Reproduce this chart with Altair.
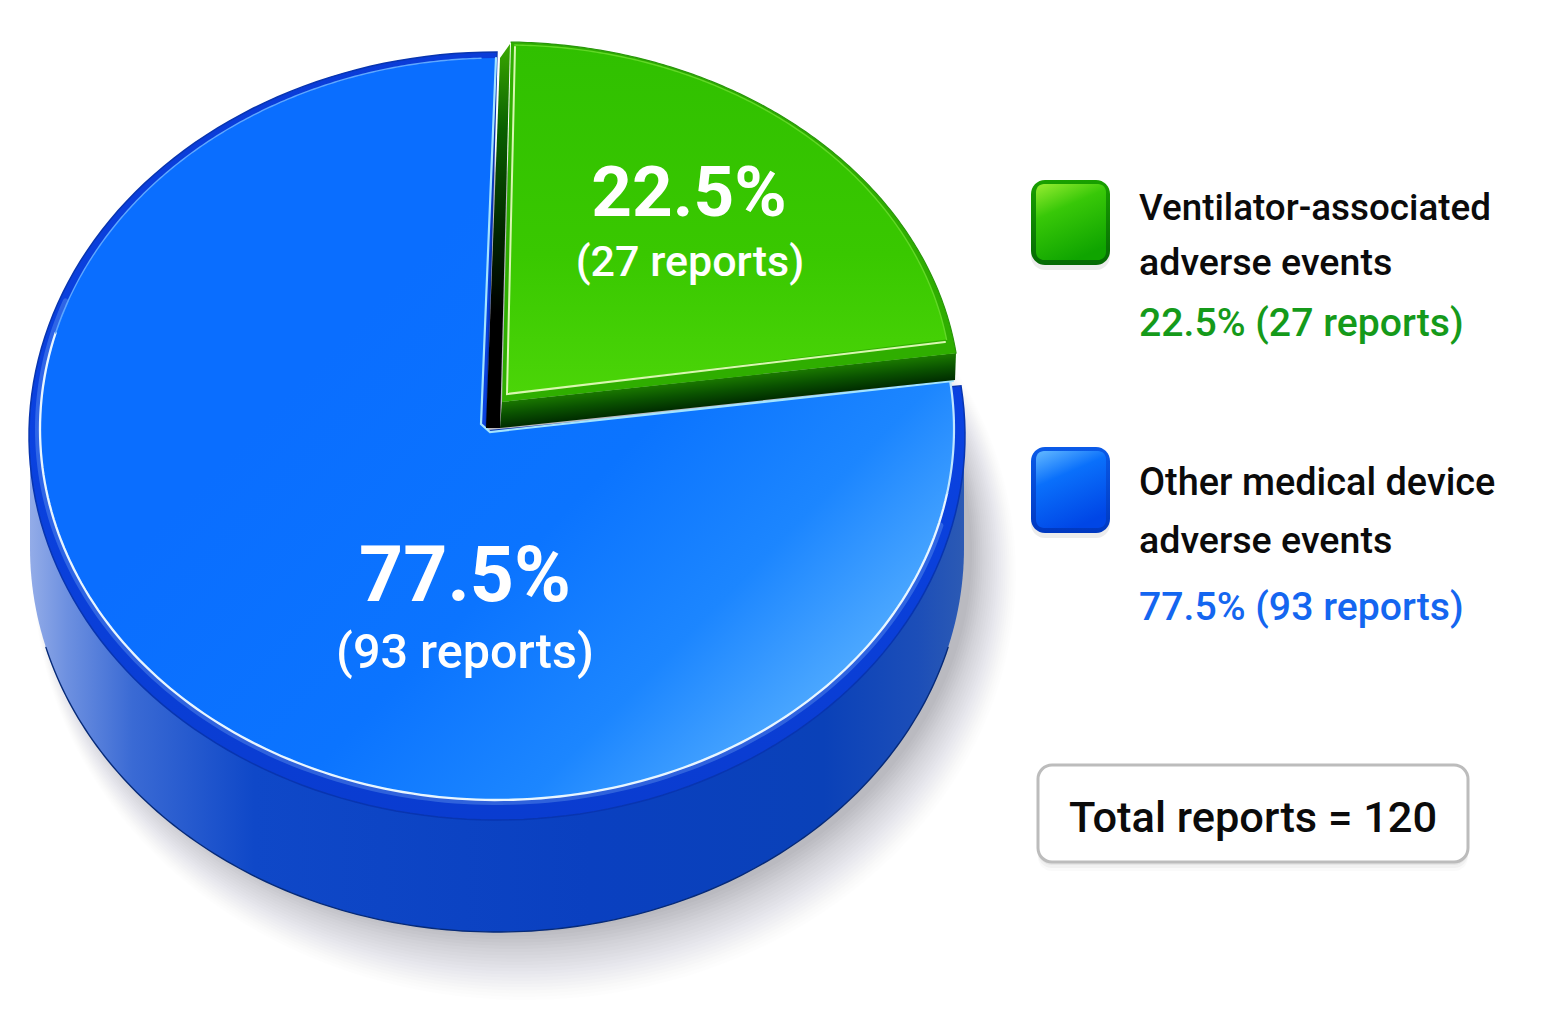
import numpy as np
import pandas as pd
import altair as alt

# ---- values
CATEGORIES = ["Ventilator-associated adverse events", "Other medical device adverse events"]
REPORTS = [27, 93]
TOTAL = sum(REPORTS)
SHARE_TXT = [f"{100 * r / TOTAL:.1f}%" for r in REPORTS]
COUNT_TXT = [f"({r} reports)" for r in REPORTS]
GREEN_DEG = 360 * REPORTS[0] / TOTAL   # 81 degrees clockwise from the top
TILT = 1.5                             # drawn slightly past the slice edge by the perspective

W, H = 1526, 1004
xs = alt.Scale(domain=[8, 8 + W], nice=False, zero=False)
ys = alt.Scale(domain=[8, 8 + H], nice=False, zero=False, reverse=True)
FONT = "Roboto"


def arc(cx, cy, rx, ry, a0, a1, n=160):
    a = np.radians(np.linspace(a0, a1, n))
    return list(zip(cx + rx * np.sin(a), cy - ry * np.cos(a)))


def grad(stops, x1=0, y1=0, x2=1, y2=0):
    return alt.LinearGradient(
        gradient="linear",
        stops=[alt.GradientStop(offset=o, color=c) for o, c in stops],
        x1=x1, y1=y1, x2=x2, y2=y2,
    )


def frame(pts):
    return pd.DataFrame({"x": [p[0] for p in pts], "y": [p[1] for p in pts], "i": range(len(pts))})


def enc(ch):
    return ch.encode(
        x=alt.X("x:Q", scale=xs, axis=None),
        y=alt.Y("y:Q", scale=ys, axis=None),
        order="i:Q",
    )


def poly(pts, fill, opacity=1.0, stroke="transparent", sw=0):
    return enc(alt.Chart(frame(pts)).mark_line(
        fill=fill, stroke=stroke, strokeWidth=sw, opacity=opacity, interpolate="linear-closed"))


def path(pts, color, sw=2, opacity=1.0):
    return enc(alt.Chart(frame(pts)).mark_line(
        stroke=color, strokeWidth=sw, opacity=opacity, strokeCap="round"))


def rrect(x0, y0, x1, y1, fill, r=14, stroke=None, sw=0, opacity=1.0):
    kw = dict(fill=fill, cornerRadius=r, opacity=opacity)
    if stroke:
        kw.update(stroke=stroke, strokeWidth=sw)
    d = pd.DataFrame({"x": [x0], "x2": [x1], "y": [y0], "y2": [y1]})
    return alt.Chart(d).mark_rect(**kw).encode(
        x=alt.X("x:Q", scale=xs, axis=None), x2="x2:Q",
        y=alt.Y("y:Q", scale=ys, axis=None), y2="y2:Q")


def label(x, y, text, size, color, weight=500, align="left", opacity=1.0):
    d = pd.DataFrame({"x": [x], "y": [y], "t": [text]})
    return alt.Chart(d).mark_text(
        font=FONT, fontSize=size, fontWeight=weight, color=color, align=align,
        baseline="alphabetic", opacity=opacity,
    ).encode(x=alt.X("x:Q", scale=xs, axis=None), y=alt.Y("y:Q", scale=ys, axis=None), text="t:N")


layers = []

# soft shadow under the pie
for k in range(22):
    layers.append(poly(arc(510 + k * 0.7, 553 + k * 1.0, 462 + k * 1.4, 380 + k * 2.2, 0, 360),
                       "#2a2a34", opacity=0.008 + 0.0006 * (22 - k)))

# outer wall
A0 = GREEN_DEG + TILT
wall = [(964, 436), (964, 548)] + arc(497, 548, 467, 384, 90, 270) + [(30, 436)]
layers.append(poly(wall, grad([(0, "#93ace8"), (0.04, "#6d90e0"), (0.11, "#3a6ad4"), (0.24, "#0f48c8"),
                               (0.6, "#0a40c0"), (0.85, "#0a41b8"), (0.95, "#1c4eb8"), (1, "#2c5ab4")])))
layers.append(path(arc(497, 548, 467, 384, 105, 255), "#062a78", sw=1.4))

# rim and top of the blue slice
layers.append(poly([(486, 431)] + arc(497, 436, 468, 384, A0, 360),
                   grad([(0, "#0a3cd8"), (0.5, "#0a42e0"), (1, "#0a3cd0")], x1=0, y1=0, x2=0, y2=1),
                   stroke="#0835b0", sw=1.5))
blue_top = [(481, 424), (490, 432)] + arc(497, 429, 457, 371, A0, 360)
layers.append(poly(blue_top, grad([(0, "#0a6eff"), (0.42, "#0b74ff"), (0.68, "#1c86ff"), (1, "#66baff")],
                                  x1=0.35, y1=0.35, x2=0.98, y2=0.85)))
layers.append(path(arc(497, 429, 459, 373, 105, 290), "#9fd2ff", sw=6, opacity=0.25))
layers.append(path(arc(497, 429, 457, 371, 100, 285), "#e8f6ff", sw=2.3))
layers.append(path(arc(497, 429, 457, 371, 285, 358), "#5fa8ff", sw=1.4))
layers.append(path(arc(497, 429, 457, 371, A0, 100), "#bfe6ff", sw=2.2))
layers.append(path([(496, 58), (481, 424), (490, 432), (953, 381)], "#a3e4ff", sw=2.2))

# green slice: walls
layers.append(poly([(486, 428), (500, 428), (510, 44), (500, 58)],
                   grad([(0, "#3aa800"), (0.22, "#0a6000"), (0.5, "#012400"), (0.7, "#000000"), (1, "#000000")],
                        x1=0, y1=0, x2=0, y2=1)))
layers.append(poly([(502, 402), (956, 353), (955, 380), (500, 428)],
                   grad([(0, "#1b7a00"), (0.5, "#0a5200"), (1, "#002c00")],
                        x1=0.5, y1=0.32, x2=0.663, y2=0.575)))
# green rim and top
layers.append(poly([(502, 402)] + arc(503, 400, 457, 358, 1, A0), "#2fae00"))
layers.append(path(arc(503, 400, 457, 358, 1, A0), "#28960a", sw=1.2))
green_top = [(507, 394)] + arc(507, 394, 445, 349, 1, GREEN_DEG)
layers.append(poly(green_top, grad([(0, "#30c000"), (0.6, "#39c800"), (1, "#4bd508")],
                                   x1=0, y1=0, x2=0, y2=1)))
layers.append(path([(515, 47), (507, 394), (945, 342)], "#d9f7b0", sw=2))
layers.append(path(arc(507, 394, 445, 349, 1, GREEN_DEG), "#62d826", sw=1.4))

# labels on the slices
for x, y, t, s, w in [(689, 216, SHARE_TXT[0], 71, 700), (690, 276, COUNT_TXT[0], 43, 500),
                      (465, 601, SHARE_TXT[1], 77, 700), (465, 668, COUNT_TXT[1], 48.5, 500)]:
    layers.append(label(x, y, t, s, "#ffffff", w, "center"))

# legend swatches
layers.append(rrect(1031, 184, 1110, 270, "#404040", opacity=0.10))
layers.append(rrect(1031, 180, 1110, 265, grad([(0, "#19a000"), (1, "#056a05")], x1=0, y1=0, x2=0, y2=1)))
layers.append(rrect(1036, 184, 1106, 260,
                    grad([(0, "#8be82c"), (0.35, "#38c808"), (1, "#0fa400")], x1=0.15, y1=0, x2=0.55, y2=1),
                    r=8))
layers.append(rrect(1031, 452, 1110, 538, "#404040", opacity=0.10))
layers.append(rrect(1031, 447, 1110, 533, grad([(0, "#0a5ae8"), (1, "#0038c0")], x1=0, y1=0, x2=0, y2=1)))
layers.append(rrect(1036, 451, 1106, 528,
                    grad([(0, "#58b0ff"), (0.35, "#0a70fb"), (1, "#0046e6")], x1=0.15, y1=0, x2=0.55, y2=1),
                    r=8))

# legend text
GREEN_TXT, BLUE_TXT = "#159a1a", "#1466f0"
layers.append(label(1139, 220, "Ventilator-associated", 36.8, "#0b0b0b"))
layers.append(label(1139, 275, "adverse events", 37.6, "#0b0b0b"))
layers.append(label(1139, 336, f"{SHARE_TXT[0]} {COUNT_TXT[0]}", 39.2, GREEN_TXT))
layers.append(label(1139, 495, "Other medical device", 37.9, "#0b0b0b"))
layers.append(label(1139, 553, "adverse events", 37.6, "#0b0b0b"))
layers.append(label(1139, 620, f"{SHARE_TXT[1]} {COUNT_TXT[1]}", 39.2, BLUE_TXT))

# total box
for k, op in [(9, 0.03), (6, 0.05), (3, 0.07)]:
    layers.append(rrect(1038, 766 + k, 1468, 862 + k, "#505050", opacity=op))
layers.append(rrect(1038, 765, 1468, 862, "#ffffff", stroke="#bcbcbc", sw=3))
layers.append(label(1069, 832, f"Total reports = {TOTAL}", 43.4, "#0b0b0b"))

chart = alt.layer(*layers).properties(
    width=W, height=H, padding=0, background="#ffffff",
    autosize=alt.AutoSizeParams(type="none"),
).configure_view(stroke=None)

chart.save("out.html", embed_options={"renderer": "svg", "actions": False})
